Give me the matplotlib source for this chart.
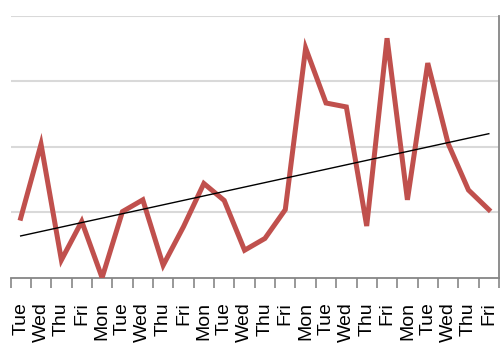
import numpy as np
import matplotlib
matplotlib.use("Agg")
import matplotlib.pyplot as plt
from matplotlib.ticker import FixedLocator, NullFormatter

days = ["Tue", "Wed", "Thu", "Fri",
        "Mon", "Tue", "Wed", "Thu", "Fri",
        "Mon", "Tue", "Wed", "Thu", "Fri",
        "Mon", "Tue", "Wed", "Thu", "Fri",
        "Mon", "Tue", "Wed", "Thu", "Fri"]
values = [0.91, 2.04, 0.27, 0.86, 0.00, 1.01, 1.19, 0.19, 0.78, 1.44, 1.18, 0.42,
          0.60, 1.04, 3.51, 2.67, 2.61, 0.79, 3.66, 1.19, 3.28, 2.05, 1.34, 1.04]

x = np.arange(len(values))
slope, intercept = np.polyfit(x, values, 1)
trend = slope * x + intercept

fig = plt.figure(figsize=(5.0, 3.49), dpi=100)
ax = fig.add_axes([0.021, 0.2043, 0.977, 0.7499])

ax.plot(x, values, color="#C0504D", lw=3.6, solid_joinstyle="miter", zorder=3)
ax.plot(x, trend, color="black", lw=1.0, zorder=4)

ax.set_xlim(-0.5, len(values) - 0.5)
ax.set_ylim(0, 4)
ax.set_yticks([1, 2, 3, 4])
ax.yaxis.grid(True, color="#D9D9D9", lw=1.5)
ax.set_axisbelow(True)
ax.tick_params(axis="y", left=False, labelleft=False)

ax.set_xticks(x)
ax.set_xticklabels(days, rotation=90, fontsize=14, va="top",
                   family=["Liberation Sans", "DejaVu Sans"])
ax.tick_params(axis="x", which="major", length=0, pad=17.5)
ax.xaxis.set_minor_locator(FixedLocator(np.arange(-0.5, len(values), 1.0)))
ax.xaxis.set_minor_formatter(NullFormatter())
ax.tick_params(axis="x", which="minor", length=7, width=1.2, color="#868686")

for side in ("left", "top"):
    ax.spines[side].set_visible(False)
for side in ("bottom", "right"):
    ax.spines[side].set_color("#868686")
    ax.spines[side].set_linewidth(1.3)

fig.savefig("out.png", dpi=100)
